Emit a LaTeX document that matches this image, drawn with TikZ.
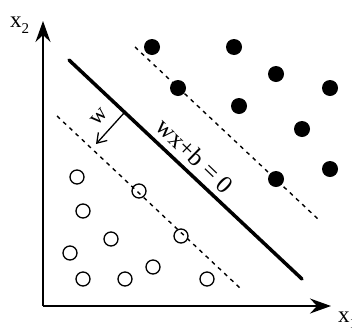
\documentclass[tikz,border=0pt]{standalone}
\usepackage{fontspec}
\setmainfont{Liberation Serif}
\usetikzlibrary{arrows.meta}
\begin{document}
\begin{tikzpicture}[x=1pt,y=-1pt,
  posdot/.style={circle,fill=black,inner sep=0pt,minimum size=16pt},
  negdot/.style={circle,draw=black,line width=1.3pt,inner sep=0pt,minimum size=14pt},
  axis/.style={line width=1.8pt,-{Stealth[length=21pt,width=15pt,inset=7pt]}},
  margin/.style={line width=1.4pt,dash pattern=on 4pt off 4.5pt},
  lbl/.style={inner sep=0pt,font=\fontsize{23}{23}\selectfont}]
\useasboundingbox (0,0) rectangle (352,327);
\coordinate (O) at (43,306);
\coordinate (Y) at (43,21);
\coordinate (X) at (331,306);
\draw[axis] (O) -- (Y);
\draw[axis] (O) -- (X);
\node[lbl,anchor=base west] (x2) at (10,27) {x\raisebox{-0.3em}{\fontsize{15}{15}\selectfont 2}};
\node[lbl,anchor=base west] (x1) at (338,322) {x\raisebox{-0.3em}{\fontsize{15}{15}\selectfont 1}};
% hyperplane and margins
\coordinate (h1) at (69,60);
\coordinate (h2) at (302,279);
\draw[line width=3.5pt,line cap=round] (h1) -- (h2);
\coordinate (u1) at (135,47);
\coordinate (u2) at (319,220);
\draw[margin] (u1) -- (u2);
\coordinate (l1) at (57,116);
\coordinate (l2) at (240,288);
\draw[margin] (l1) -- (l2);
% normal vector
\coordinate (w1) at (124,113);
\coordinate (w2) at (96,144);
\draw[line width=1.3pt,-{Straight Barb[length=9pt,width=12pt]}] (w1) -- (w2);
\node[lbl,rotate=47] (wl) at (99,117) {w};
\node[lbl,rotate=-44,font=\fontsize{25}{25}\selectfont] (eq) at (195,156) {wx+b = 0};
% positive points
\node[posdot] (p1) at (152,47) {};
\node[posdot] (p2) at (234,47) {};
\node[posdot] (p3) at (276,74) {};
\node[posdot] (p4) at (178,88) {};
\node[posdot] (p5) at (330,88) {};
\node[posdot] (p6) at (239,106) {};
\node[posdot] (p7) at (302,129) {};
\node[posdot] (p8) at (330,169) {};
\node[posdot] (p9) at (276,179) {};
% negative points
\node[negdot] (n1) at (77,177) {};
\node[negdot] (n2) at (139,191) {};
\node[negdot] (n3) at (83,211) {};
\node[negdot] (n4) at (181,236) {};
\node[negdot] (n5) at (111,239) {};
\node[negdot] (n6) at (70,253) {};
\node[negdot] (n7) at (153,267) {};
\node[negdot] (n8) at (83,279) {};
\node[negdot] (n9) at (125,279) {};
\node[negdot] (n10) at (207,279) {};
\end{tikzpicture}
\end{document}
